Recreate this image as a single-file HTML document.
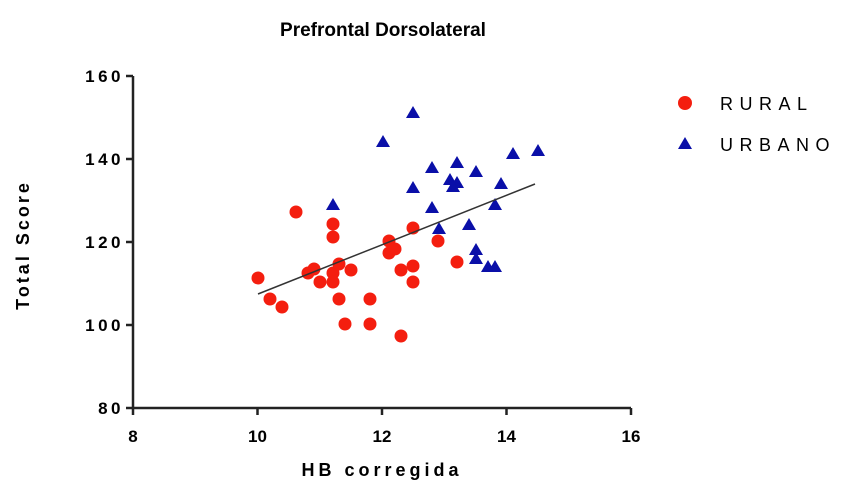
<!DOCTYPE html>
<html><head><style>body{margin:0;background:#fff}</style></head><body>
<svg width="850" height="488" xmlns="http://www.w3.org/2000/svg" font-family="Liberation Sans, sans-serif" font-weight="bold">
<text x="383" y="36" font-size="19" text-anchor="middle">Prefrontal Dorsolateral</text>
<g stroke="#222" stroke-width="2.5" fill="none">
<path d="M133 76 V408 H631"/>
<path d="M126 76H133M126 159H133M126 242H133M126 325H133M126 408H133"/>
<path d="M133 408V415M257.5 408V415M382 408V415M506.5 408V415M631 408V415"/>
</g>
<g font-size="17" text-anchor="end" letter-spacing="3.5">
<text x="124" y="82">160</text><text x="124" y="165">140</text><text x="124" y="248">120</text><text x="124" y="331">100</text><text x="124" y="414">80</text>
</g>
<g font-size="17" text-anchor="middle">
<text x="133" y="442">8</text><text x="257.5" y="442">10</text><text x="382" y="442">12</text><text x="506.5" y="442">14</text><text x="631" y="442">16</text>
</g>
<text x="382" y="476" font-size="18" text-anchor="middle" letter-spacing="4">HB corregida</text>
<text transform="translate(29,245) rotate(-90)" font-size="18" text-anchor="middle" letter-spacing="3">Total Score</text>
<g fill="#f41e0f">
<circle cx="258" cy="278" r="6.5"/><circle cx="270" cy="299" r="6.5"/><circle cx="282" cy="307" r="6.5"/><circle cx="296" cy="212" r="6.5"/><circle cx="308" cy="273" r="6.5"/><circle cx="314" cy="269" r="6.5"/><circle cx="320" cy="282" r="6.5"/><circle cx="333" cy="224" r="6.5"/><circle cx="333" cy="237" r="6.5"/><circle cx="333" cy="273" r="6.5"/><circle cx="333" cy="282" r="6.5"/><circle cx="339" cy="264" r="6.5"/><circle cx="339" cy="299" r="6.5"/><circle cx="345" cy="324" r="6.5"/><circle cx="351" cy="270" r="6.5"/><circle cx="370" cy="299" r="6.5"/><circle cx="370" cy="324" r="6.5"/><circle cx="389" cy="241" r="6.5"/><circle cx="389" cy="253" r="6.5"/><circle cx="395" cy="249" r="6.5"/><circle cx="401" cy="270" r="6.5"/><circle cx="401" cy="336" r="6.5"/><circle cx="413" cy="228" r="6.5"/><circle cx="413" cy="266" r="6.5"/><circle cx="413" cy="282" r="6.5"/><circle cx="438" cy="241" r="6.5"/><circle cx="457" cy="262" r="6.5"/>
<circle cx="685" cy="103" r="7"/>
</g>
<defs><path id="t" d="M0 -7L7 5H-7Z" fill="#0a0fa8"/></defs>
<g>
<use href="#t" x="413" y="113"/><use href="#t" x="383" y="142"/><use href="#t" x="432" y="168"/><use href="#t" x="457" y="163"/><use href="#t" x="476" y="172"/><use href="#t" x="513" y="154"/><use href="#t" x="538" y="151"/><use href="#t" x="413" y="188"/><use href="#t" x="450" y="180"/><use href="#t" x="457" y="183"/><use href="#t" x="453" y="187"/><use href="#t" x="501" y="184"/><use href="#t" x="333" y="205"/><use href="#t" x="432" y="208"/><use href="#t" x="495" y="205"/><use href="#t" x="439" y="229"/><use href="#t" x="469" y="225"/><use href="#t" x="476" y="250"/><use href="#t" x="476" y="259"/><use href="#t" x="488" y="267"/><use href="#t" x="495" y="267"/>
<use href="#t" x="685" y="144"/>
</g>
<line x1="258" y1="294" x2="535" y2="184" stroke="#333" stroke-width="1.5"/>
<g font-size="18" font-weight="normal" letter-spacing="6.5">
<text x="720" y="110">RURAL</text><text x="720" y="151">URBANO</text>
</g>
</svg>
</body></html>
